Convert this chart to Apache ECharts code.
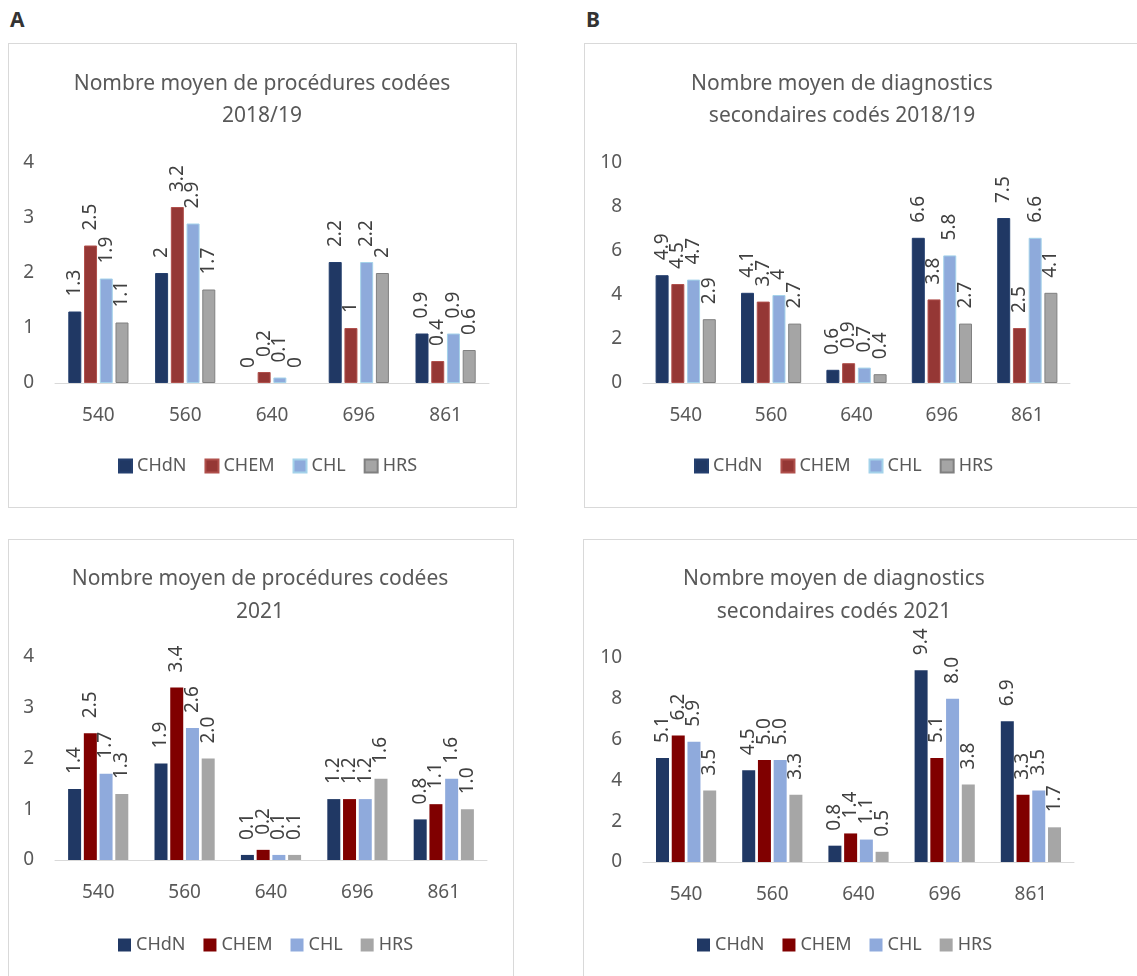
<!DOCTYPE html>
<html>
<head>
<meta charset="utf-8">
<script src="https://cdn.jsdelivr.net/npm/echarts@6.0.0/dist/echarts.min.js"></script>
<style>
  body { margin: 0; background: #fff; width: 1137px; height: 976px; overflow: hidden; position: relative; font-family: 'Noto Sans', sans-serif; }
  .box { position: absolute; border: 1px solid #D9D9D9; box-sizing: border-box; }
  .chart { position: absolute; }
  .tag { position: absolute; font-family: 'Noto Sans', sans-serif; font-weight: bold; font-size: 21px; line-height: 1; color: #333333; }
</style>
</head>
<body>
<div class="tag" style="left:10px;top:9px;">A</div>
<div class="tag" style="left:586px;top:9px;">B</div>
<div class="box" style="left:8px;top:43px;width:509px;height:465px;"></div>
<div class="box" style="left:584px;top:43px;width:560px;height:465px;"></div>
<div class="box" style="left:8px;top:539px;width:506px;height:450px;"></div>
<div class="box" style="left:583px;top:539px;width:560px;height:450px;"></div>
<div id="chartA" class="chart" style="left:8px;top:43px;width:508px;height:464px;"></div>
<div id="chartB" class="chart" style="left:584px;top:43px;width:516px;height:464px;"></div>
<div id="chartC" class="chart" style="left:8px;top:539px;width:504px;height:437px;"></div>
<div id="chartD" class="chart" style="left:583px;top:539px;width:502px;height:437px;"></div>
<script>
// Hospital codes on the x axis and the four establishments
const categories = ['540', '560', '640', '696', '861'];
const seriesNames = ['CHdN', 'CHEM', 'CHL', 'HRS'];

// Mean number of coded procedures, 2018/19
const procChdn2018 = [1.3, 2, 0, 2.2, 0.9];
const procChem2018 = [2.5, 3.2, 0.2, 1, 0.4];
const procChl2018  = [1.9, 2.9, 0.1, 2.2, 0.9];
const procHrs2018  = [1.1, 1.7, 0, 2, 0.6];

// Mean number of coded secondary diagnoses, 2018/19
const diagChdn2018 = [4.9, 4.1, 0.6, 6.6, 7.5];
const diagChem2018 = [4.5, 3.7, 0.9, 3.8, 2.5];
const diagChl2018  = [4.7, 4, 0.7, 5.8, 6.6];
const diagHrs2018  = [2.9, 2.7, 0.4, 2.7, 4.1];

// Mean number of coded procedures, 2021
const procChdn2021 = [1.4, 1.9, 0.1, 1.2, 0.8];
const procChem2021 = [2.5, 3.4, 0.2, 1.2, 1.1];
const procChl2021  = [1.7, 2.6, 0.1, 1.2, 1.6];
const procHrs2021  = [1.3, 2.0, 0.1, 1.6, 1.0];

// Mean number of coded secondary diagnoses, 2021
const diagChdn2021 = [5.1, 4.5, 0.8, 9.4, 6.9];
const diagChem2021 = [6.2, 5.0, 1.4, 5.1, 3.3];
const diagChl2021  = [5.9, 5.0, 1.1, 8.0, 3.5];
const diagHrs2021  = [3.5, 3.3, 0.5, 3.8, 1.7];

// Value-axis tick settings
const procAxisMax = 4, procAxisStep = 1;
const diagAxisMax = 10, diagAxisStep = 2;

// Bar styles: the 2018/19 panels use outlined bars, the 2021 panels flat ones
const styles2018 = [
  { color: '#203864', borderColor: '#243F6E', borderWidth: 1 },
  { color: '#953735', borderColor: '#B0504C', borderWidth: 1 },
  { color: '#8EAADB', borderColor: '#A4D2EA', borderWidth: 1 },
  { color: '#A5A5A5', borderColor: '#808080', borderWidth: 1 }
];
const styles2021 = [
  { color: '#203864' },
  { color: '#800000' },
  { color: '#8FAADC' },
  { color: '#A6A6A6' }
];

const FONT = 'Noto Sans';
const TEXT = '#595959';

// Zero-valued bars keep their label but draw no outline
function toItems(vals) {
  return vals.map(v => v === 0 ? { value: v, itemStyle: { borderWidth: 0 } } : v);
}

function buildOption(cfg) {
  return {
    animation: false,
    title: {
      text: cfg.title,
      left: 'center',
      top: cfg.titleTop,
      textStyle: { fontFamily: FONT, fontSize: 21, fontWeight: 'normal', color: TEXT, lineHeight: cfg.titleLine }
    },
    legend: {
      data: seriesNames,
      left: cfg.legendLeft,
      top: cfg.legendTop,
      padding: 0,
      itemWidth: 13,
      itemHeight: 13,
      itemGap: 18,
      icon: 'rect',
      textStyle: { fontFamily: FONT, fontSize: 18, color: TEXT }
    },
    grid: { left: cfg.grid.left, top: cfg.grid.top, width: cfg.grid.width, height: cfg.grid.height },
    xAxis: {
      type: 'category',
      data: categories,
      axisLine: { lineStyle: { color: '#D9D9D9', width: 1 } },
      axisTick: { show: false },
      axisLabel: { fontFamily: FONT, fontSize: 19, color: TEXT, margin: cfg.xMargin }
    },
    yAxis: {
      type: 'value',
      min: 0,
      max: cfg.yMax,
      interval: cfg.yStep,
      splitLine: { show: false },
      axisLine: { show: false },
      axisTick: { show: false },
      axisLabel: { fontFamily: FONT, fontSize: 19, color: TEXT, margin: 21 }
    },
    series: cfg.data.map((vals, i) => ({
      name: seriesNames[i],
      type: 'bar',
      data: toItems(vals),
      barWidth: 13,
      barGap: '21%',
      itemStyle: cfg.styles[i],
      label: {
        show: true,
        position: 'top',
        rotate: 90,
        align: 'left',
        verticalAlign: 'middle',
        distance: 15,
        fontFamily: FONT,
        fontSize: 19,
        color: '#404040',
        formatter: p => cfg.fixed ? p.value.toFixed(1) : String(p.value)
      }
    }))
  };
}

const panels = [
  {
    id: 'chartA',
    title: 'Nombre moyen de procédures codées\n2018/19',
    titleTop: 20, titleLine: 32,
    grid: { left: 47, top: 120, width: 434, height: 220 },
    xMargin: 23, legendLeft: 110, legendTop: 414,
    yMax: procAxisMax, yStep: procAxisStep,
    styles: styles2018, fixed: false,
    data: [procChdn2018, procChem2018, procChl2018, procHrs2018]
  },
  {
    id: 'chartB',
    title: 'Nombre moyen de diagnostics\nsecondaires codés 2018/19',
    titleTop: 20, titleLine: 32,
    grid: { left: 59, top: 120, width: 427, height: 220 },
    xMargin: 23, legendLeft: 110, legendTop: 414,
    yMax: diagAxisMax, yStep: diagAxisStep,
    styles: styles2018, fixed: false,
    data: [diagChdn2018, diagChem2018, diagChl2018, diagHrs2018]
  },
  {
    id: 'chartC',
    title: 'Nombre moyen de procédures codées\n2021',
    titleTop: 19, titleLine: 33,
    grid: { left: 47, top: 118, width: 432, height: 203 },
    xMargin: 23, legendLeft: 110, legendTop: 397,
    yMax: procAxisMax, yStep: procAxisStep,
    styles: styles2021, fixed: true,
    data: [procChdn2021, procChem2021, procChl2021, procHrs2021]
  },
  {
    id: 'chartD',
    title: 'Nombre moyen de diagnostics\nsecondaires codés 2021',
    titleTop: 19, titleLine: 33,
    grid: { left: 60, top: 119, width: 431, height: 204 },
    xMargin: 23, legendLeft: 114, legendTop: 397,
    yMax: diagAxisMax, yStep: diagAxisStep,
    styles: styles2021, fixed: true,
    data: [diagChdn2021, diagChem2021, diagChl2021, diagHrs2021]
  }
];

panels.forEach(cfg => {
  const chart = echarts.init(document.getElementById(cfg.id), null, { renderer: 'canvas' });
  chart.setOption(buildOption(cfg));
});
</script>
</body>
</html>
